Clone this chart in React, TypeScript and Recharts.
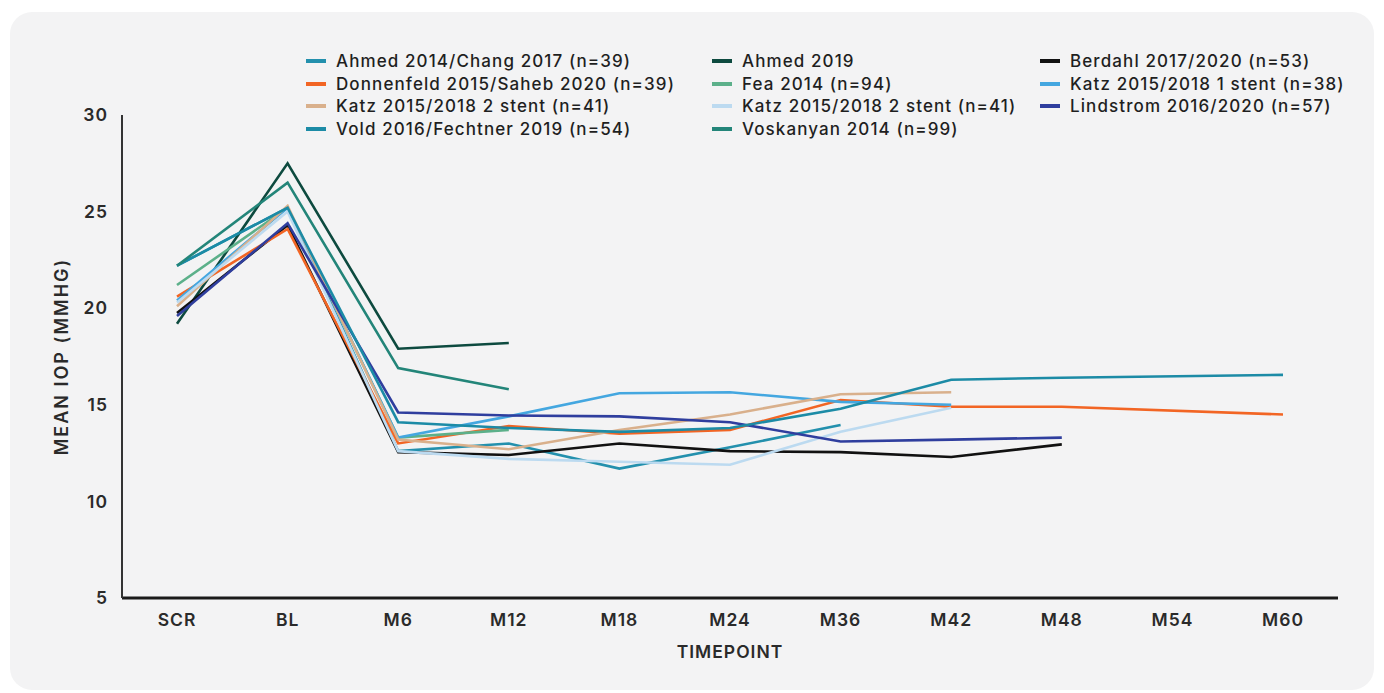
import React from 'react';
import { LineChart, Line, XAxis, YAxis } from 'recharts';

const categories = ['SCR', 'BL', 'M6', 'M12', 'M18', 'M24', 'M36', 'M42', 'M48', 'M54', 'M60'];
const yTicks = [5, 10, 15, 20, 25, 30];

const ahmed2014 = [22.2, 25.2, 12.6, 13.0, 11.7, 12.8, 13.95, null, null, null, null];
const ahmed2019 = [19.2, 27.5, 17.9, 18.2, null, null, null, null, null, null, null];
const berdahl = [19.75, 24.3, 12.55, 12.4, 13.0, 12.6, 12.55, 12.3, 12.95, null, null];
const donnenfeld = [20.6, 24.1, 13.0, 13.9, 13.5, 13.7, 15.25, 14.9, 14.9, null, 14.5];
const fea = [21.2, 25.2, 13.3, 13.7, null, null, null, null, null, null, null];
const katz1 = [20.4, 25.2, 13.3, 14.4, 15.6, 15.65, 15.15, 15.0, null, null, null];
const katz2tan = [20.1, 25.3, 13.2, 12.7, 13.7, 14.5, 15.55, 15.65, null, null, null];
const katz2light = [20.3, 25.0, 12.6, 12.2, 12.05, 11.9, 13.6, 14.85, null, null, null];
const lindstrom = [19.6, 24.4, 14.6, 14.45, 14.4, 14.1, 13.1, 13.2, 13.3, null, null];
const vold = [22.2, 25.2, 14.1, 13.8, 13.6, 13.8, 14.8, 16.3, 16.4, null, 16.55];
const voskanyan = [22.2, 26.5, 16.9, 15.8, null, null, null, null, null, null, null];

const seriesDefs = [
  { key: 'a', name: 'Ahmed 2014/Chang 2017 (n=39)', values: ahmed2014, color: '#2390ad' },
  { key: 'b', name: 'Ahmed 2019', values: ahmed2019, color: '#0d4a3f' },
  { key: 'c', name: 'Berdahl 2017/2020 (n=53)', values: berdahl, color: '#111111' },
  { key: 'd', name: 'Donnenfeld 2015/Saheb 2020 (n=39)', values: donnenfeld, color: '#f26524' },
  { key: 'e', name: 'Fea 2014 (n=94)', values: fea, color: '#5cb08a' },
  { key: 'f', name: 'Katz 2015/2018 1 stent (n=38)', values: katz1, color: '#44a7e0' },
  { key: 'g', name: 'Katz 2015/2018 2 stent (n=41)', values: katz2tan, color: '#d9b08c' },
  { key: 'h', name: 'Katz 2015/2018 2 stent (n=41)', values: katz2light, color: '#bcdaf0' },
  { key: 'i', name: 'Lindstrom 2016/2020 (n=57)', values: lindstrom, color: '#2f3e9e' },
  { key: 'j', name: 'Vold 2016/Fechtner 2019 (n=54)', values: vold, color: '#1c8ba6' },
  { key: 'k', name: 'Voskanyan 2014 (n=99)', values: voskanyan, color: '#238579' },
];

const data = categories.map((c, i) => {
  const row: any = { cat: c };
  seriesDefs.forEach((s) => {
    row[s.key] = s.values[i];
  });
  return row;
});

const FONT = 'Inter, "Open Sans", sans-serif';

function LegendBlock() {
  return (
    <div
      style={{
        position: 'absolute',
        left: 306,
        top: 49.5,
        display: 'grid',
        gridTemplateColumns: '406px 328px 340px',
        fontFamily: FONT,
        fontSize: 17,
        fontWeight: 500,
        letterSpacing: 1.1,
        color: '#1f1f1f',
      }}
    >
      {seriesDefs.map((s, i) => (
        <div key={i} style={{ display: 'flex', alignItems: 'center', height: 22.7, whiteSpace: 'nowrap' }}>
          <span style={{ display: 'inline-block', width: 20, height: 4, background: s.color, marginRight: 10 }} />
          <span>{s.name}</span>
        </div>
      ))}
    </div>
  );
}

const tickStyle = { fill: '#2a2a2a', fontSize: 17.5, fontWeight: 600, fontFamily: FONT, letterSpacing: 1 };

export default function App() {
  return (
    <div style={{ position: 'absolute', left: 0, top: 0, width: 1384, height: 693, background: '#ffffff', overflow: 'hidden' }}>
      <div
        style={{
          position: 'absolute',
          left: 10,
          top: 12,
          width: 1364,
          height: 678,
          background: '#f3f3f4',
          borderRadius: 22,
        }}
      />
      <div style={{ position: 'absolute', left: 0, top: 0 }}>
        <LineChart width={1384} height={693} data={data} margin={{ top: 115, right: 46, bottom: 35, left: 62 }}>
          <XAxis
            dataKey="cat"
            padding={{ left: 55, right: 55 }}
            axisLine={{ stroke: '#1a1a1a', strokeWidth: 3 }}
            tickLine={false}
            tick={tickStyle}
            tickMargin={10}
            height={60}
            label={{ value: 'TIMEPOINT', position: 'insideBottom', offset: 0, fill: '#2a2a2a', fontSize: 17.5, fontWeight: 600, fontFamily: FONT, letterSpacing: 1 }}
          />
          <YAxis
            domain={[5, 30]}
            ticks={yTicks}
            axisLine={{ stroke: '#333333', strokeWidth: 2 }}
            tickLine={false}
            tick={tickStyle}
            tickMargin={8}
            width={60}
            label={{ value: 'MEAN IOP (MMHG)', angle: -90, position: 'insideLeft', offset: 0, style: { textAnchor: 'middle' }, fill: '#2a2a2a', fontSize: 18, fontWeight: 600, fontFamily: FONT, letterSpacing: 2 }}
          />
          {seriesDefs.map((s) => (
            <Line
              key={s.key}
              dataKey={s.key}
              name={s.name}
              stroke={s.color}
              strokeWidth={2.6}
              dot={false}
              activeDot={false}
              connectNulls
              isAnimationActive={false}
              type="linear"
            />
          ))}
        </LineChart>
      </div>
      <LegendBlock />
    </div>
  );
}
